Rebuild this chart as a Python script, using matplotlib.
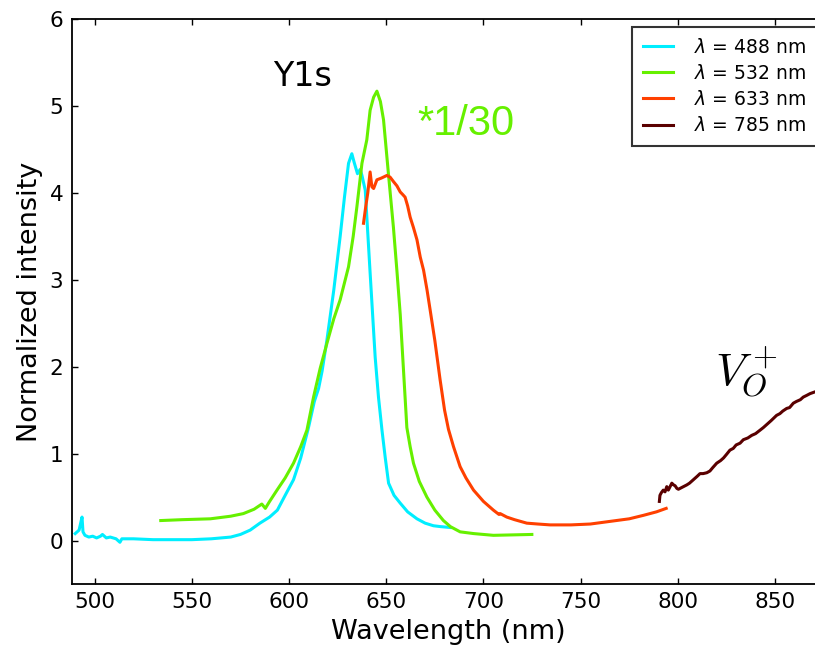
import matplotlib
matplotlib.use("Agg")
import matplotlib.pyplot as plt

plt.rcParams['mathtext.fontset'] = 'dejavusans'

# ---- data ----
wl_488 = [490, 491, 492, 493, 493.5, 494, 495, 497, 499, 501, 503, 504, 506, 508, 511, 513, 514, 517,
          520, 530, 540, 550, 560, 565, 570, 575, 580, 585, 590, 594, 598, 602.3, 606, 610, 613, 615.2,
          617, 619.5, 623, 626.3, 628.5, 630.6, 632.3, 633.5, 635.2, 636.6, 637.5, 639.2, 641.7, 644.3,
          646, 647.8, 649.5, 651.2, 654, 657.2, 661, 665.8, 670, 674.3, 678, 683]
int_488 = [0.08, 0.10, 0.12, 0.22, 0.27, 0.10, 0.06, 0.04, 0.05, 0.03, 0.05, 0.07, 0.03, 0.04, 0.02, -0.02, 0.02, 0.02,
           0.02, 0.01, 0.01, 0.01, 0.02, 0.03, 0.04, 0.07, 0.12, 0.20, 0.27, 0.35, 0.52, 0.70, 0.95, 1.30, 1.60, 1.75,
           1.95, 2.31, 2.88, 3.50, 3.95, 4.34, 4.45, 4.35, 4.22, 4.27, 4.20, 4.03, 3.08, 2.11,
           1.65, 1.27, 0.95, 0.66, 0.52, 0.43, 0.33, 0.25, 0.20, 0.17, 0.16, 0.15]

wl_532 = [534, 545, 559.5, 570, 576.5, 582, 586, 587.8, 590, 593.8, 598, 602.3, 606, 609.2, 612.6, 616,
          619.5, 623, 626.3, 630.6, 633, 634.9, 637.5, 640, 641.7, 643.5, 645.2, 647, 648.6, 651.2,
          653.7, 655.5, 657.2, 658.9, 660.6, 662.3, 664, 667, 670.9, 675, 679.4, 683, 688, 695, 705.1, 715, 724.9]
int_532 = [0.23, 0.24, 0.25, 0.28, 0.31, 0.36, 0.42, 0.37, 0.45, 0.58, 0.72, 0.89, 1.08, 1.27, 1.65, 1.98,
           2.27, 2.55, 2.77, 3.15, 3.50, 3.84, 4.34, 4.61, 4.95, 5.10, 5.17, 5.05, 4.84, 4.20,
           3.60, 3.10, 2.60, 1.95, 1.30, 1.08, 0.89, 0.68, 0.50, 0.35, 0.23, 0.16, 0.10, 0.08, 0.06, 0.065, 0.07]

wl_633 = [638.3, 639.5, 640.5, 641.7, 642.6, 643.5, 645.2, 647.5, 650.3, 652, 653.7, 655.5, 657.2, 658.5,
          659.7, 661, 662.3, 664, 665.8, 667.5, 669.2, 671, 672.6, 675, 677.7, 680, 682, 684.6, 688, 691,
          694.9, 700, 705.1, 708, 708.6, 712, 716, 722.3, 728, 734.3, 745, 755, 765, 775, 782.3, 789, 794]
int_633 = [3.65, 3.85, 4.00, 4.24, 4.07, 4.05, 4.15, 4.17, 4.20, 4.18, 4.13, 4.08, 4.01, 3.98,
           3.95, 3.85, 3.72, 3.60, 3.46, 3.26, 3.11, 2.88, 2.65, 2.30, 1.85, 1.50, 1.28, 1.08, 0.85, 0.72,
           0.58, 0.45, 0.35, 0.30, 0.31, 0.27, 0.24, 0.20, 0.19, 0.18, 0.18, 0.19, 0.22, 0.25, 0.29, 0.33, 0.37]

wl_785 = [790.5, 790.8, 791.5, 792.5, 793.4, 794.3, 795.1, 796, 796.9, 797.8, 798.6, 799.5, 800.3, 802,
          804.6, 806, 808, 810, 811.4, 813, 814.9, 816.5, 818, 820, 822, 823.5, 825, 826.8, 828.5, 830,
          832, 833.7, 836, 838, 840, 842.3, 844, 846, 848, 850.8, 852.5, 854, 856, 857.5, 859.4, 861,
          863, 864.5, 866.3, 868, 870.5, 873, 875.7]
int_785 = [0.45, 0.52, 0.55, 0.58, 0.56, 0.62, 0.58, 0.62, 0.66, 0.64, 0.63, 0.60, 0.59, 0.61,
           0.64, 0.66, 0.70, 0.74, 0.77, 0.77, 0.78, 0.80, 0.84, 0.89, 0.92, 0.95, 0.99, 1.04, 1.06, 1.10,
           1.12, 1.16, 1.18, 1.21, 1.23, 1.27, 1.30, 1.34, 1.38, 1.44, 1.46, 1.49, 1.52, 1.53, 1.58, 1.60,
           1.62, 1.65, 1.67, 1.69, 1.71, 1.73, 1.74]

labels = [r'$\lambda$ = 488 nm', r'$\lambda$ = 532 nm', r'$\lambda$ = 633 nm', r'$\lambda$ = 785 nm']
colors = ['#00eeff', '#66f000', '#ff4000', '#5a0000']

x_ticks = [500, 550, 600, 650, 700, 750, 800, 850]
y_ticks = [0, 1, 2, 3, 4, 5, 6]

# ---- figure ----
fig = plt.figure(figsize=(8.15, 6.52), dpi=100)
ax = fig.add_axes([72.3 / 815, (652 - 584) / 652, (825 - 72.3) / 815, (584 - 19) / 652])

series = [(wl_488, int_488), (wl_532, int_532), (wl_633, int_633), (wl_785, int_785)]
for (x, y), c, lab in zip(series, colors, labels):
    ax.plot(x, y, color=c, lw=2.2, label=lab)

ax.set_xlim(488.5, 875.7)
ax.set_ylim(-0.5, 6)
ax.set_xticks(x_ticks)
ax.set_yticks(y_ticks)
ax.tick_params(direction='in', length=4, width=1, top=True, right=True, labelsize=15.5)
ax.tick_params(axis='x', pad=6)
ax.tick_params(axis='y', pad=6.5)
for s in ax.spines.values():
    s.set_linewidth(1.3)

ax.set_xlabel('Wavelength (nm)', fontsize=19.5, labelpad=5)
ax.set_ylabel('Normalized intensity', fontsize=19.5, labelpad=5)

leg = ax.legend(loc='upper right', fontsize=13.5, frameon=True, fancybox=False,
                edgecolor='black', handlelength=1.6, handletextpad=1.15,
                borderpad=0.6, labelspacing=0.38, borderaxespad=0.4)
leg.get_frame().set_linewidth(1.5)

ax.text(592, 5.23, 'Y1s', fontsize=24, color='black', va='baseline', ha='left',
        family='DejaVu Sans')
ax.text(665.9, 4.67, '*1/30', fontsize=30, color='#66f000', va='baseline', ha='left',
        family='Liberation Sans')
ax.text(819, 1.79, r'$V_O^+$', fontsize=33, color='black', va='baseline', ha='left',
        math_fontfamily='cm')

fig.savefig('out.png', dpi=100)
